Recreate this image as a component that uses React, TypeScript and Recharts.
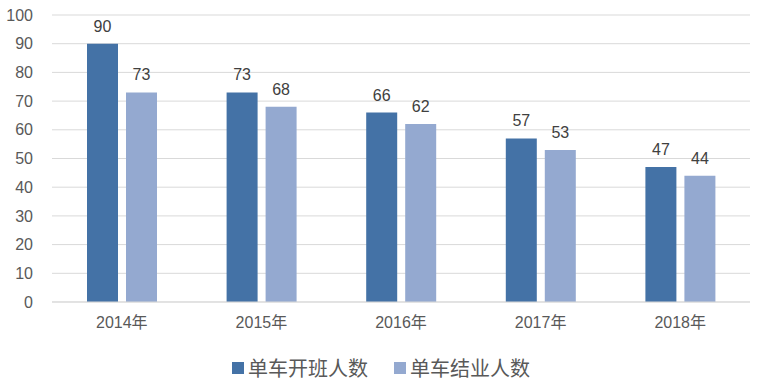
import React from 'react';
import { BarChart, Bar, XAxis, YAxis, CartesianGrid, Legend, LabelList } from 'recharts';

const categories = ['2014年', '2015年', '2016年', '2017年', '2018年'];
const openValues = [90, 73, 66, 57, 47];
const graduateValues = [73, 68, 62, 53, 44];
const yTicks = [0, 10, 20, 30, 40, 50, 60, 70, 80, 90, 100];
const seriesNames = ['单车开班人数', '单车结业人数'];
const colors = ['#4472A6', '#94A9D0'];

const data = categories.map((c, i) => ({ name: c, open: openValues[i], grad: graduateValues[i] }));

const FONT = '"Liberation Sans", "Noto Sans CJK SC", sans-serif';

const LegendContent = (props: any) => {
  const { payload } = props;
  return (
    <div style={{ height: 46, display: 'flex', justifyContent: 'center', alignItems: 'flex-start', paddingTop: 19, paddingLeft: 12, boxSizing: 'border-box', fontFamily: '"Noto Sans CJK SC", sans-serif' }}>
      {(payload || []).map((p: any, i: number) => (
        <div key={i} style={{ display: 'flex', alignItems: 'center', marginLeft: i === 0 ? 0 : 26, height: 22 }}>
          <span style={{ display: 'inline-block', width: 12, height: 12, background: p.color, marginRight: 4 }} />
          <span style={{ fontSize: 20, color: '#595959', lineHeight: '22px' }}>{p.value}</span>
        </div>
      ))}
    </div>
  );
};

export default function App() {
  return (
    <div style={{ position: 'absolute', left: 0, top: 0, width: 760, height: 384, background: '#fff' }}>
      <BarChart width={760} height={384} data={data} margin={{ top: 15, right: 10, bottom: 0, left: 0 }} barSize={31} barGap={8}>
        <CartesianGrid vertical={false} stroke="#D9D9D9" />
        <XAxis dataKey="name" tickLine={false} axisLine={{ stroke: '#D9D9D9' }} height={36} tickMargin={9}
          tick={{ fontSize: 16, fill: '#595959', fontFamily: FONT }} />
        <YAxis domain={[0, 100]} ticks={yTicks} width={52} tickLine={false} axisLine={false} tickMargin={13}
          tick={{ fontSize: 16, fill: '#595959', fontFamily: FONT }} interval={0} />
        <Legend verticalAlign="bottom" content={<LegendContent />} />
        <Bar dataKey="open" name={seriesNames[0]} fill={colors[0]} isAnimationActive={false}>
          <LabelList dataKey="open" position="top" offset={12} style={{ fontSize: 16, fill: '#404040', fontFamily: FONT }} />
        </Bar>
        <Bar dataKey="grad" name={seriesNames[1]} fill={colors[1]} isAnimationActive={false}>
          <LabelList dataKey="grad" position="top" offset={12} style={{ fontSize: 16, fill: '#404040', fontFamily: FONT }} />
        </Bar>
      </BarChart>
    </div>
  );
}
